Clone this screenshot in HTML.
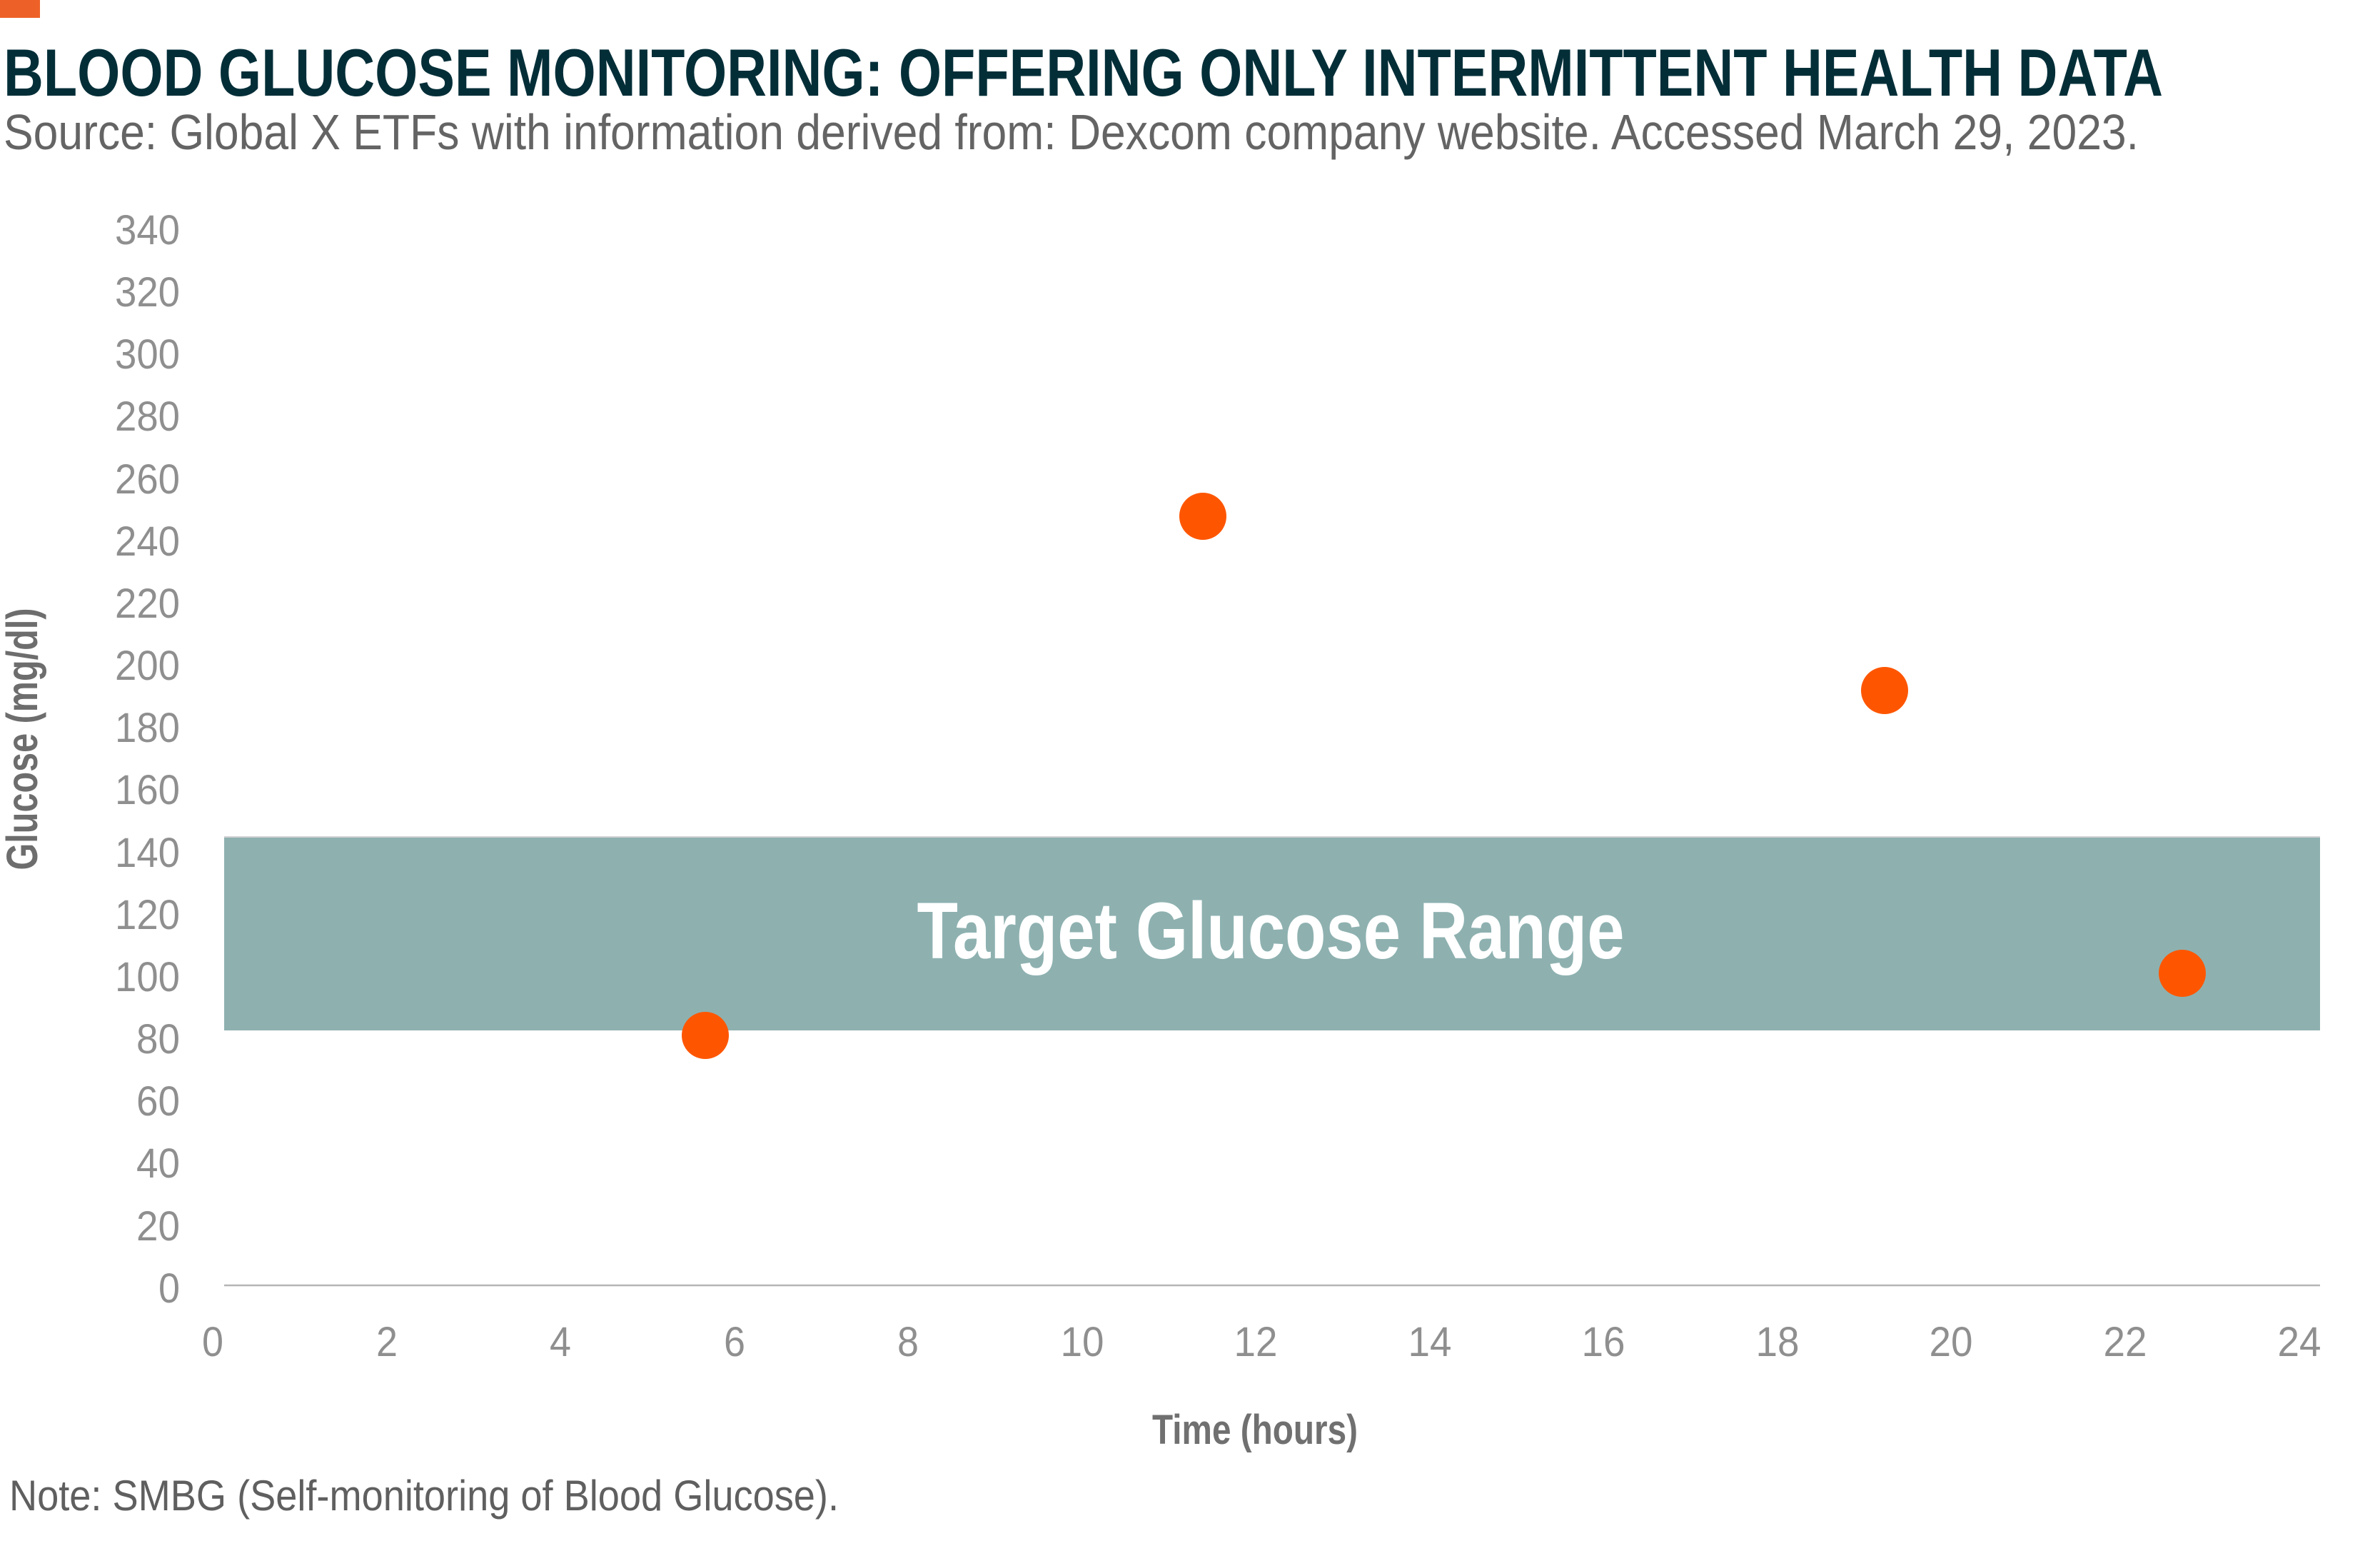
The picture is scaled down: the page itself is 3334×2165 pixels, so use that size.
<!DOCTYPE html>
<html>
<head>
<meta charset="utf-8">
<style>
  html, body { margin: 0; padding: 0; background: #ffffff; }
  body { width: 3334px; height: 2165px; overflow: hidden; }
  svg { display: block; }
  text { font-family: "Liberation Sans", "DejaVu Sans", sans-serif; }
</style>
</head>
<body>
<svg width="3334" height="2165" viewBox="0 0 3334 2165" xmlns="http://www.w3.org/2000/svg">
  <rect x="0" y="0" width="3334" height="2165" fill="#ffffff"/>
  <!-- orange corner mark -->
  <rect x="0" y="0" width="56" height="25" fill="#ed6128"/>

  <!-- title -->
  <text x="5" y="134" font-size="94" font-weight="bold" fill="#032e38" textLength="3025" lengthAdjust="spacingAndGlyphs">BLOOD GLUCOSE MONITORING: OFFERING ONLY INTERMITTENT HEALTH DATA</text>
  <!-- subtitle -->
  <text x="5" y="209" font-size="70" fill="#646464" textLength="2991" lengthAdjust="spacingAndGlyphs">Source: Global X ETFs with information derived from: Dexcom company website. Accessed March 29, 2023.</text>

  <!-- target band -->
  <rect x="314" y="1173" width="2936" height="270" fill="#8eb1b0"/>
  <line x1="314" y1="1172" x2="3250" y2="1172" stroke="#d2d2d2" stroke-width="2"/>
  <text x="1780" y="1342" font-size="112" font-weight="bold" fill="#ffffff" text-anchor="middle" textLength="991" lengthAdjust="spacingAndGlyphs">Target Glucose Range</text>

  <!-- x axis line -->
  <line x1="314" y1="1800" x2="3250" y2="1800" stroke="#b5b5b5" stroke-width="2.5"/>

  <!-- y tick labels -->
  <g font-size="58" fill="#8f8f8f" text-anchor="end">
    <text x="252" y="342" textLength="91" lengthAdjust="spacingAndGlyphs">340</text>
    <text x="252" y="429" textLength="91" lengthAdjust="spacingAndGlyphs">320</text>
    <text x="252" y="516" textLength="91" lengthAdjust="spacingAndGlyphs">300</text>
    <text x="252" y="603" textLength="91" lengthAdjust="spacingAndGlyphs">280</text>
    <text x="252" y="691" textLength="91" lengthAdjust="spacingAndGlyphs">260</text>
    <text x="252" y="778" textLength="91" lengthAdjust="spacingAndGlyphs">240</text>
    <text x="252" y="865" textLength="91" lengthAdjust="spacingAndGlyphs">220</text>
    <text x="252" y="952" textLength="91" lengthAdjust="spacingAndGlyphs">200</text>
    <text x="252" y="1039" textLength="91" lengthAdjust="spacingAndGlyphs">180</text>
    <text x="252" y="1126" textLength="91" lengthAdjust="spacingAndGlyphs">160</text>
    <text x="252" y="1214" textLength="91" lengthAdjust="spacingAndGlyphs">140</text>
    <text x="252" y="1301" textLength="91" lengthAdjust="spacingAndGlyphs">120</text>
    <text x="252" y="1388" textLength="91" lengthAdjust="spacingAndGlyphs">100</text>
    <text x="252" y="1475" textLength="61" lengthAdjust="spacingAndGlyphs">80</text>
    <text x="252" y="1562" textLength="61" lengthAdjust="spacingAndGlyphs">60</text>
    <text x="252" y="1649" textLength="61" lengthAdjust="spacingAndGlyphs">40</text>
    <text x="252" y="1737" textLength="61" lengthAdjust="spacingAndGlyphs">20</text>
    <text x="252" y="1824" textLength="30" lengthAdjust="spacingAndGlyphs">0</text>
  </g>

  <!-- x tick labels -->
  <g font-size="58" fill="#8f8f8f" text-anchor="middle">
    <text x="298" y="1899" textLength="30" lengthAdjust="spacingAndGlyphs">0</text>
    <text x="542" y="1899" textLength="30" lengthAdjust="spacingAndGlyphs">2</text>
    <text x="785" y="1899" textLength="30" lengthAdjust="spacingAndGlyphs">4</text>
    <text x="1029" y="1899" textLength="30" lengthAdjust="spacingAndGlyphs">6</text>
    <text x="1272" y="1899" textLength="30" lengthAdjust="spacingAndGlyphs">8</text>
    <text x="1516" y="1899" textLength="61" lengthAdjust="spacingAndGlyphs">10</text>
    <text x="1759" y="1899" textLength="61" lengthAdjust="spacingAndGlyphs">12</text>
    <text x="2003" y="1899" textLength="61" lengthAdjust="spacingAndGlyphs">14</text>
    <text x="2246" y="1899" textLength="61" lengthAdjust="spacingAndGlyphs">16</text>
    <text x="2490" y="1899" textLength="61" lengthAdjust="spacingAndGlyphs">18</text>
    <text x="2733" y="1899" textLength="61" lengthAdjust="spacingAndGlyphs">20</text>
    <text x="2977" y="1899" textLength="61" lengthAdjust="spacingAndGlyphs">22</text>
    <text x="3221" y="1899" textLength="61" lengthAdjust="spacingAndGlyphs">24</text>
  </g>

  <!-- axis titles -->
  <text transform="translate(52,1035) rotate(-90)" x="0" y="0" font-size="61" font-weight="bold" fill="#6d6d6d" text-anchor="middle" textLength="367" lengthAdjust="spacingAndGlyphs">Glucose (mg/dl)</text>
  <text x="1758" y="2022" font-size="58" font-weight="bold" fill="#707070" text-anchor="middle" textLength="288" lengthAdjust="spacingAndGlyphs">Time (hours)</text>

  <!-- data points -->
  <g fill="#fe5600">
    <circle cx="988" cy="1450" r="33"/>
    <circle cx="1685" cy="723" r="33"/>
    <circle cx="2640" cy="967" r="33"/>
    <circle cx="3057" cy="1363" r="33"/>
  </g>

  <!-- note -->
  <text x="13" y="2115" font-size="60" fill="#5f5f5f" textLength="1162" lengthAdjust="spacingAndGlyphs">Note: SMBG (Self-monitoring of Blood Glucose).</text>
</svg>
</body>
</html>
